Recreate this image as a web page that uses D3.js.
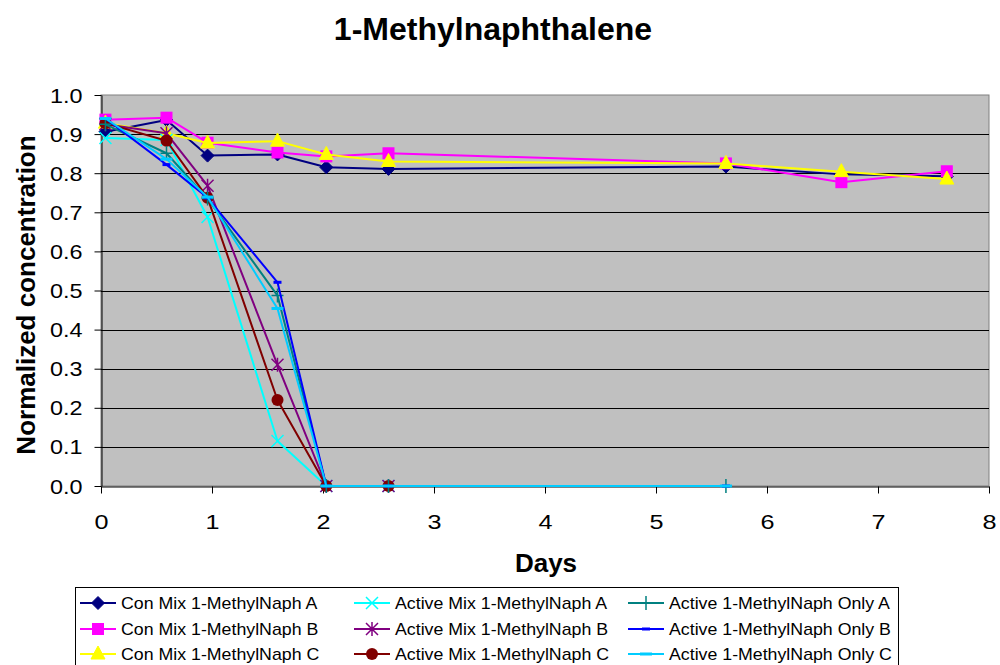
<!DOCTYPE html>
<html>
<head>
<meta charset="utf-8">
<script src="https://cdn.jsdelivr.net/npm/d3@7"></script>
<style>
  html, body { margin: 0; padding: 0; background: #fff; }
  svg { display: block; font-family: "Liberation Sans", Arial, sans-serif; }
</style>
</head>
<body>
<svg id="chart" width="1000" height="665"></svg>
<script>
// Sampling days
const conDays = [0.04, 0.59, 0.96, 1.59, 2.03, 2.59, 5.63, 6.67, 7.62];
const mixDays = [0.04, 0.59, 0.96, 1.59, 2.03, 2.59];
const onlyDays = [0.04, 0.59, 0.96, 1.59, 2.03, 2.59, 5.63];

// Normalized concentrations
const conMixA = [0.906, 0.936, 0.845, 0.848, 0.815, 0.811, 0.817, 0.797, 0.792];
const conMixB = [0.937, 0.942, 0.878, 0.853, 0.843, 0.851, 0.825, 0.777, 0.805];
const conMixC = [0.928, 0.902, 0.877, 0.882, 0.848, 0.830, 0.825, 0.804, 0.785];
const activeMixA = [0.890, 0.885, 0.688, 0.115, 0, 0];
const activeMixB = [0.925, 0.902, 0.768, 0.310, 0, 0];
const activeMixC = [0.928, 0.883, 0.737, 0.220, 0, 0];
const activeOnlyA = [0.925, 0.851, 0.735, 0.487, 0, 0, 0];
const activeOnlyB = [0.940, 0.822, 0.737, 0.521, 0, 0, 0];
const activeOnlyC = [0.940, 0.836, 0.739, 0.454, 0, 0, 0];

const seriesNames = [
  "Con Mix 1-MethylNaph A", "Con Mix 1-MethylNaph B", "Con Mix 1-MethylNaph C",
  "Active Mix 1-MethylNaph A", "Active Mix 1-MethylNaph B", "Active Mix 1-MethylNaph C",
  "Active 1-MethylNaph Only A", "Active 1-MethylNaph Only B", "Active 1-MethylNaph Only C"
];
const seriesDays = [conDays, conDays, conDays, mixDays, mixDays, mixDays, onlyDays, onlyDays, onlyDays];
const seriesValues = [conMixA, conMixB, conMixC, activeMixA, activeMixB, activeMixC, activeOnlyA, activeOnlyB, activeOnlyC];
const seriesColors = ["#000080", "#ff00ff", "#ffff00", "#00ffff", "#800080", "#800000", "#008080", "#0000ff", "#00ccff"];
const seriesMarkers = ["diamond", "square", "triangle", "x", "star", "circle", "plus", "dash", "longdash"];

const xTicks = [0, 1, 2, 3, 4, 5, 6, 7, 8];
const yTicks = [0, 0.1, 0.2, 0.3, 0.4, 0.5, 0.6, 0.7, 0.8, 0.9, 1.0];

const svg = d3.select("#chart");
const plotL = 101, plotR = 989, plotT = 95, plotB = 486;
const x = d3.scaleLinear().domain([0, 8]).range([plotL, plotR]);
const y = d3.scaleLinear().domain([0, 1]).range([plotB, plotT]);

// Title
svg.append("text")
  .attr("x", 493).attr("y", 40)
  .attr("text-anchor", "middle")
  .attr("font-size", 32).attr("font-weight", "bold")
  .text("1-Methylnaphthalene");

// Plot area
svg.append("rect")
  .attr("x", plotL).attr("y", plotT)
  .attr("width", plotR - plotL).attr("height", plotB - plotT)
  .attr("fill", "#c0c0c0").attr("stroke", "#808080").attr("stroke-width", 1);

// Horizontal gridlines
svg.append("g").selectAll("line")
  .data(yTicks.filter(d => d > 0 && d < 1))
  .join("line")
  .attr("x1", plotL).attr("x2", plotR)
  .attr("y1", d => Math.round(y(d)) + 0.5).attr("y2", d => Math.round(y(d)) + 0.5)
  .attr("stroke", "#000").attr("stroke-width", 1);

// Axes
const yAxis = svg.append("g")
  .attr("transform", `translate(${plotL + 0.5},0)`)
  .call(d3.axisLeft(y).tickValues(yTicks).tickFormat(d3.format(".1f")).tickSize(7).tickSizeOuter(0));
yAxis.select(".domain").attr("stroke", "#000");
yAxis.selectAll("text")
  .attr("x", null).attr("dy", null)
  .attr("font-size", 20).attr("fill", "#000")
  .attr("font-family", "Liberation Sans, Arial, sans-serif")
  .attr("transform", "translate(-19,7) scale(1.17,1)");

const xAxis = svg.append("g")
  .attr("transform", `translate(0,${plotB + 0.5})`)
  .call(d3.axisBottom(x).tickValues(xTicks).tickFormat(d3.format("d")).tickSize(7).tickSizeOuter(0));
xAxis.select(".domain").attr("stroke", "#000");
xAxis.selectAll("text")
  .attr("y", null).attr("dy", null)
  .attr("font-size", 21).attr("fill", "#000")
  .attr("font-family", "Liberation Sans, Arial, sans-serif")
  .attr("transform", "translate(0,42) scale(1.2,1)");

// Axis titles
svg.append("text")
  .attr("x", 546).attr("y", 572)
  .attr("text-anchor", "middle")
  .attr("font-size", 26).attr("font-weight", "bold")
  .text("Days");
svg.append("text")
  .attr("transform", "translate(35,295) rotate(-90)")
  .attr("text-anchor", "middle")
  .attr("font-size", 26).attr("font-weight", "bold")
  .text("Normalized concentration");

// Marker drawing
function drawMarker(g, type, color) {
  switch (type) {
    case "diamond":
      g.append("path").attr("d", "M0,-6.5L6.5,0L0,6.5L-6.5,0Z").attr("fill", color).attr("stroke", color);
      break;
    case "square":
      g.append("rect").attr("x", -6).attr("y", -6).attr("width", 12).attr("height", 12).attr("fill", color);
      break;
    case "triangle":
      g.append("path").attr("d", "M0,-8L7,5L-7,5Z").attr("fill", color).attr("stroke", color);
      break;
    case "circle":
      g.append("circle").attr("r", 6).attr("fill", color);
      break;
    case "x":
      g.append("path").attr("d", "M-6,-6L6,6M-6,6L6,-6").attr("stroke", color).attr("stroke-width", 1.5).attr("fill", "none");
      break;
    case "star":
      g.append("path").attr("d", "M-6,-6L6,6M-6,6L6,-6M0,-7L0,7").attr("stroke", color).attr("stroke-width", 1.5).attr("fill", "none");
      break;
    case "plus":
      g.append("path").attr("d", "M-6,0L6,0M0,-7L0,7").attr("stroke", color).attr("stroke-width", 1.5).attr("fill", "none");
      break;
    case "dash":
      g.append("rect").attr("x", -4).attr("y", -1.5).attr("width", 8).attr("height", 3).attr("fill", color);
      break;
    case "longdash":
      g.append("rect").attr("x", -6).attr("y", -1.5).attr("width", 12).attr("height", 3).attr("fill", color);
      break;
  }
}

const line = d3.line().x(d => x(d[0])).y(d => y(d[1]));

// Series: line then markers, in series order
seriesNames.forEach((name, i) => {
  const pts = seriesDays[i].map((d, j) => [d, seriesValues[i][j]]);
  const g = svg.append("g").attr("class", "series");
  g.append("path")
    .attr("d", line(pts))
    .attr("fill", "none")
    .attr("stroke", seriesColors[i])
    .attr("stroke-width", 2)
    .attr("stroke-linejoin", "round");
  pts.forEach(p => {
    const m = g.append("g").attr("transform", `translate(${x(p[0])},${y(p[1])})`);
    drawMarker(m, seriesMarkers[i], seriesColors[i]);
  });
});

// Legend
const legend = svg.append("g");
legend.append("rect")
  .attr("x", 75.5).attr("y", 587.5)
  .attr("width", 823).attr("height", 90)
  .attr("fill", "#fff").attr("stroke", "#000").attr("stroke-width", 1);
const colX = [80, 354, 628];
const rowY = [603, 629, 654];
seriesNames.forEach((name, i) => {
  const col = Math.floor(i / 3), row = i % 3;
  const lx = colX[col], ly = rowY[row];
  const item = legend.append("g");
  item.append("line")
    .attr("x1", lx).attr("x2", lx + 36)
    .attr("y1", ly).attr("y2", ly)
    .attr("stroke", seriesColors[i]).attr("stroke-width", 2);
  const m = item.append("g").attr("transform", `translate(${lx + 18},${ly})`);
  drawMarker(m, seriesMarkers[i], seriesColors[i]);
  item.append("text")
    .attr("transform", `translate(${lx + 41},${ly + 6}) scale(1.11,1)`)
    .attr("font-size", 16)
    .text(name);
});
</script>
</body>
</html>
